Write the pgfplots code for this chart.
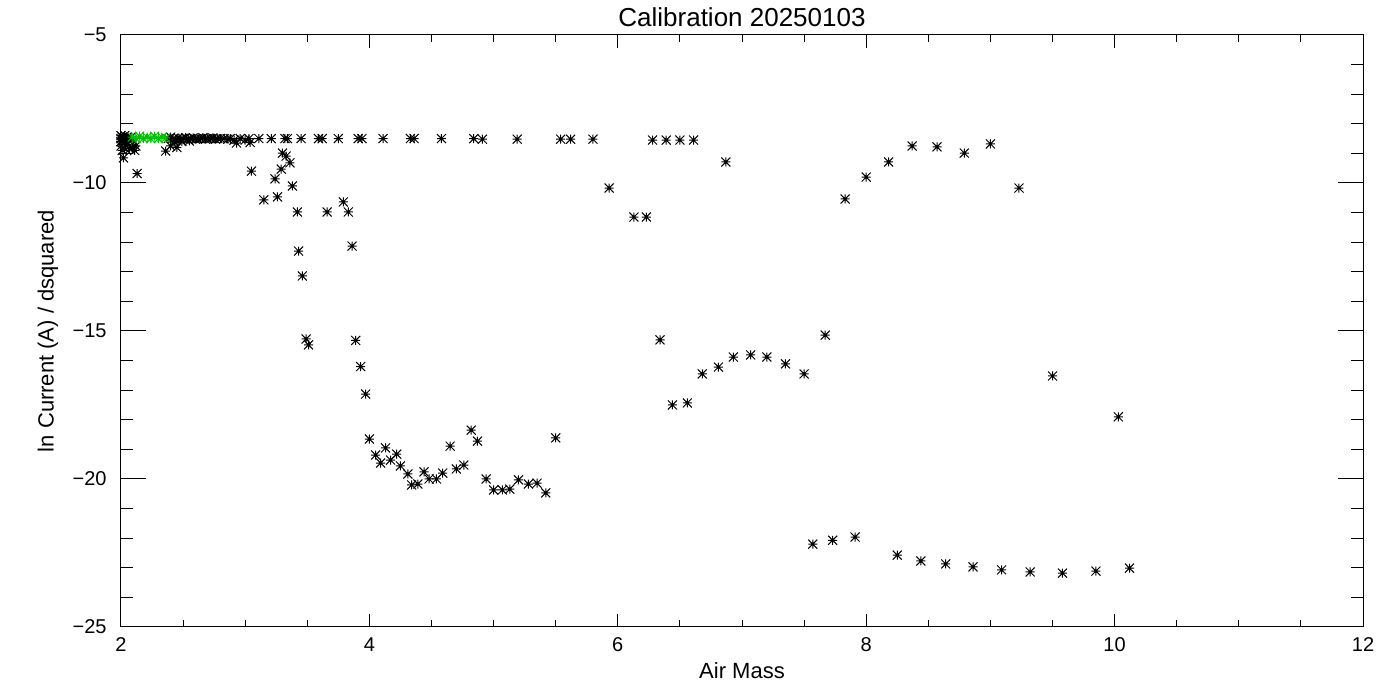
\documentclass[border=0pt]{standalone}
\usepackage{fontspec}
\setmainfont{Liberation Sans}
\usepackage{pgfplots}
\pgfplotsset{compat=1.18}
\usepackage{pgfplotstable}

\pgfdeclareplotmark{idlstar}{%
 \pgfpathmoveto{\pgfqpoint{-\pgfplotmarksize}{0pt}}\pgfpathlineto{\pgfqpoint{\pgfplotmarksize}{0pt}}%
 \pgfpathmoveto{\pgfqpoint{0pt}{-\pgfplotmarksize}}\pgfpathlineto{\pgfqpoint{0pt}{\pgfplotmarksize}}%
 \pgfpathmoveto{\pgfqpoint{-\pgfplotmarksize}{-\pgfplotmarksize}}\pgfpathlineto{\pgfqpoint{\pgfplotmarksize}{\pgfplotmarksize}}%
 \pgfpathmoveto{\pgfqpoint{-\pgfplotmarksize}{\pgfplotmarksize}}\pgfpathlineto{\pgfqpoint{\pgfplotmarksize}{-\pgfplotmarksize}}%
 \pgfusepathqstroke}

\pgfplotstableread{
x y
2.00 -8.40
2.00 -8.50
2.00 -8.60
2.01 -8.45
2.01 -8.55
2.02 -8.50
2.03 -8.40
2.03 -8.60
2.04 -8.50
2.05 -8.45
2.06 -8.55
2.07 -8.50
2.08 -8.45
2.09 -8.55
2.00 -8.75
2.01 -8.90
2.02 -9.15
2.03 -8.82
2.05 -8.70
2.07 -8.85
2.09 -8.80
2.11 -8.90
2.12 -8.75
2.13 -9.68
2.36 -8.92
2.40 -8.75
2.45 -8.80
2.38 -8.50
2.40 -8.45
2.42 -8.50
2.43 -8.60
2.44 -8.55
2.46 -8.48
2.48 -8.52
2.49 -8.60
2.50 -8.50
2.52 -8.47
2.54 -8.53
2.55 -8.58
2.56 -8.50
2.58 -8.48
2.60 -8.52
2.62 -8.50
2.64 -8.50
2.66 -8.47
2.68 -8.52
2.70 -8.50
2.72 -8.50
2.74 -8.48
2.76 -8.52
2.78 -8.50
2.80 -8.50
2.83 -8.50
2.86 -8.52
2.88 -8.50
2.91 -8.55
2.93 -8.65
2.96 -8.50
3.00 -8.55
3.03 -8.50
3.04 -8.63
3.11 -8.50
3.21 -8.50
3.32 -8.50
3.34 -8.50
3.45 -8.50
3.59 -8.50
3.62 -8.50
3.75 -8.50
3.91 -8.50
3.94 -8.50
4.11 -8.50
4.33 -8.50
4.36 -8.50
4.58 -8.50
4.84 -8.50
4.91 -8.52
5.19 -8.52
5.54 -8.52
5.62 -8.52
5.80 -8.52
6.28 -8.55
6.39 -8.55
6.50 -8.55
6.61 -8.55
3.05 -9.60
3.30 -8.99
3.33 -9.09
3.36 -9.32
3.29 -9.53
3.24 -9.86
3.38 -10.10
3.15 -10.57
3.26 -10.47
3.79 -10.64
3.42 -10.98
3.66 -10.98
3.83 -10.98
3.43 -12.30
3.86 -12.13
3.46 -13.14
3.49 -15.27
3.51 -15.47
3.89 -15.32
3.93 -16.20
3.97 -17.13
4.00 -18.65
4.05 -19.19
4.09 -19.46
4.13 -18.95
4.17 -19.36
4.22 -19.16
4.25 -19.56
4.31 -19.83
4.34 -20.20
4.39 -20.17
4.44 -19.76
4.48 -20.00
4.54 -20.00
4.59 -19.80
4.65 -18.89
4.70 -19.66
4.76 -19.53
4.82 -18.35
4.87 -18.72
4.94 -20.00
5.00 -20.37
5.07 -20.37
5.13 -20.34
5.20 -20.03
5.28 -20.17
5.35 -20.14
5.42 -20.47
5.50 -18.61
5.93 -10.17
6.13 -11.15
6.23 -11.15
6.87 -9.29
6.34 -15.30
6.44 -17.50
6.56 -17.43
6.68 -16.45
6.81 -16.22
6.93 -15.88
7.07 -15.81
7.20 -15.88
7.35 -16.11
7.50 -16.45
7.67 -15.14
7.83 -10.54
8.00 -9.80
8.18 -9.29
8.37 -8.75
8.57 -8.78
8.79 -8.99
9.00 -8.68
9.23 -10.17
9.50 -16.52
10.03 -17.90
7.57 -22.20
7.73 -22.07
7.91 -21.96
8.25 -22.57
8.44 -22.77
8.64 -22.87
8.86 -22.97
9.09 -23.07
9.32 -23.14
9.58 -23.18
9.85 -23.11
10.12 -23.01
}\blackdata

\pgfplotstableread{
x y
2.09 -8.45
2.12 -8.50
2.15 -8.42
2.18 -8.50
2.21 -8.45
2.24 -8.50
2.27 -8.42
2.30 -8.50
2.33 -8.45
2.36 -8.48
}\greendata

\definecolor{idlgreen}{RGB}{0,190,0}

\begin{document}
\begin{tikzpicture}
\begin{axis}[
  scale only axis,
  width=621pt, height=296pt,
  xmin=2, xmax=12, ymin=-25, ymax=-5,
  axis line style={line width=0.5pt},
  xtick={2,4,6,8,10,12},
  xticklabels={2,4,6,8,10,12},
  minor x tick num=3,
  ytick={-25,-20,-15,-10,-5},
  yticklabels={−25,−20,−15,−10,−5},
  minor y tick num=4,
  tick align=inside,
  xtick style={line width=0.5pt,black,/pgfplots/major tick length=6.5pt,/pgfplots/minor tick length=3.5pt},
  ytick style={line width=0.5pt,black,/pgfplots/major tick length=12.5pt,/pgfplots/minor tick length=6.25pt},
  xticklabel style={font=\fontsize{10}{12}\selectfont, anchor=north, inner sep=0pt, yshift=-5pt},
  yticklabel style={font=\fontsize{10}{12}\selectfont, anchor=east, inner sep=0pt, xshift=-7pt},
  xlabel={Air Mass},
  ylabel={ln Current (A) / dsquared},
  xlabel style={font=\fontsize{11}{13}\selectfont, at={(axis description cs:0.5,-0.0743)}, anchor=center},
  ylabel style={font=\fontsize{11}{13}\selectfont, at={(axis description cs:-0.0588,0.5)}, anchor=center},
  every axis title shift=0pt,
  title={Calibration 20250103},
  title style={font=\fontsize{13}{15}\selectfont, at={(axis description cs:0.5,1.0304)}, anchor=center},
  clip=false,
]
\addplot[only marks, mark=idlstar, mark size=2.25pt, black, line width=0.5pt] table[x=x,y=y] {\blackdata};
\addplot[only marks, mark=idlstar, mark size=2.25pt, idlgreen, line width=0.5pt] table[x=x,y=y] {\greendata};
\end{axis}
\pgfresetboundingbox
\path ([shift={(-60.5pt,-36.5pt)}]current axis.south west) rectangle ([shift={(18.5pt,17.5pt)}]current axis.north east);
\end{tikzpicture}
\end{document}
